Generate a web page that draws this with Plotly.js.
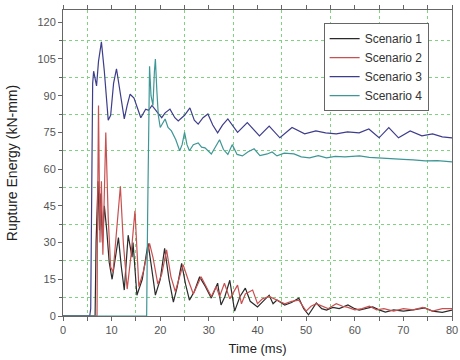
<!DOCTYPE html>
<html><head><meta charset="utf-8">
<script src="https://cdn.plot.ly/plotly-3.0.1.min.js"></script>
<style>html,body{margin:0;padding:0;background:#fff;}#chart{width:460px;height:360px;}</style>
</head><body><div id="chart"></div>
<script>
// Scenario 1 (black)
const t1 = [0,6.6,6.8,7.2,7.5,7.8,8.1,8.5,9.0,9.5,10.1,10.8,11.4,12.0,12.6,13.4,14.2,14.4,15.2,16.3,17.5,18.2,19.0,20.0,20.9,21.8,22.7,23.5,24.4,25.2,26.0,27.0,28.1,29.3,30.5,31.8,32.5,33.3,34.3,35.3,36.4,37.5,38.5,40.0,41.2,42.4,43.2,44.0,45.6,47.0,48.5,49.5,50.5,52.1,53.2,54.2,55.5,56.8,58.6,60.0,60.9,62.3,63.7,65.0,66.3,68.0,70.0,72.0,74.4,76.0,78.0,80.0];
const s1 = [0,0,30,55,35,50,30,45,35,22,15,25,32,20,10.6,33,24,30,8.5,15,29.7,20,8.5,15,27.6,15,5.7,12,21.5,13,6.5,10,16,12,7.3,13.4,4.5,8,14.6,2,8,11.4,6,3.7,6,8.5,5,6.5,4.5,5.5,7.3,3,0.5,5.3,3,2.4,3.5,3,4.5,3,2.4,3,3.7,2.5,1.6,2.5,2,2.5,3.3,2,1.5,2.4];
// Scenario 2 (red)
const t2 = [0,7.0,7.1,7.3,7.6,7.9,8.2,8.8,9.3,9.8,10.3,11.0,11.8,12.4,13.2,14.0,14.8,15.6,16.5,17.8,18.5,19.5,20.3,21.3,22.2,23.1,24.7,25.7,26.8,28.4,29.5,30.5,31.5,32.2,33.2,34.3,35.9,36.7,37.5,39.0,40.0,41.0,42.4,44.0,45.6,47.0,48.5,50.0,51.0,52.1,53.5,54.5,56.2,57.5,58.6,60.0,61.5,63.0,64.5,66.0,68.0,70.0,72.0,74.0,76.0,78.0,80.0];
const s2 = [0,0,40,86,30,55,25,75,40,20,18,35,53,30,11,25,43,12,18,29.7,24,13,17,27,16,10,21,15,9,16,12,8,12,8,13.4,7,12.6,5,9,10.6,5,7,8,6.5,5,6,6.5,2,4,5,4,3,5,4,3.5,2.5,3,4,2.5,3,2,3,2.5,3.5,2,3,3];
// Scenario 3 (navy)
const t3 = [0,5.5,5.7,5.9,6.1,6.3,6.7,6.9,7.3,7.9,8.5,9.3,9.8,10.4,11.0,11.8,12.6,13.2,13.8,14.6,15.3,16.0,17.0,17.6,18.3,19.0,19.7,20.3,21.0,22.0,23.0,23.7,25.0,26.1,27.0,27.8,28.8,29.8,30.8,31.8,32.8,33.9,35.9,37.9,40.4,42.4,44.6,47.1,49.7,52.0,54.0,56.2,58.5,60.9,62.9,65.0,67.0,69.0,71.4,73.8,76.0,78.0,80.0];
const s3 = [0,0,3,40,95,100,96,94,104,112,100,80,82,95,101,90,80.5,86,90.6,89,85,81,84.5,84,86,84,82.5,81,83,84.5,81,79.7,82,85,80,78.4,81,82.5,78,74.8,78,80.5,75,79,73.6,77.6,72.8,77,74.4,75.6,74.8,74.4,75.2,74.8,76.4,72.8,77,72.8,75.6,73.6,74.4,73.2,72.8];
// Scenario 4 (teal)
const t4 = [0,17.2,17.4,17.6,17.8,18.1,18.5,18.8,19.0,19.3,19.6,20.0,20.5,21.0,21.6,22.3,23.2,24.0,24.5,25.0,25.5,26.0,26.8,27.8,28.5,29.2,30.5,31.3,32.2,33.0,33.9,34.8,35.8,36.9,38.0,39.3,40.5,42.0,43.0,44.0,45.5,47.5,49.0,50.7,52.5,54.2,56.0,58.0,61.0,63.0,65.0,67.8,70.0,72.0,74.5,77.0,80.0];
const s4 = [0,0,40,85,102,90,86,100,105,92,82,77,79,80.5,77,75.6,72,67.5,70,75,70,67.5,70,70.7,69,68.7,66.2,69,72,68,66,70,66,65.4,67,68.3,65.5,66.2,67,65.4,66.5,66.2,65,64.6,65.5,64.6,65.2,65,65.4,64.8,64.5,64.2,64,63.8,63.4,63.5,63];

const names = ['Scenario 1','Scenario 2','Scenario 3','Scenario 4'];
const colors = ['#2a2a2a','#c85050','#3d3d8c','#3f9696'];
const xs = [t1,t2,t3,t4], ys = [s1,s2,s3,s4];
const traces = names.map((n,i)=>({x:xs[i], y:ys[i], name:n, type:'scatter', mode:'lines',
  line:{color:colors[i], width:1.2}}));

const xGrid = [5,15,25,35,45,55,65,75];
const yGrid = [7.5,22.5,37.5,52.5,67.5,82.5,97.5,112.5];
const gridStyle = {showgrid:true, gridcolor:'#7fd27f', griddash:'dot', gridwidth:1};

const layout = {
  width:460, height:360,
  margin:{l:63, r:8, t:10, b:44},
  paper_bgcolor:'#fff', plot_bgcolor:'#fff',
  font:{family:'Liberation Sans, Arial, sans-serif', size:11, color:'#555'},
  showlegend:true,
  legend:{x:0.67, y:0.957, xanchor:'left', yanchor:'top', bgcolor:'#fff',
    bordercolor:'#666', borderwidth:1, font:{size:12, color:'#333'}, tracegroupgap:0, itemwidth:30},
  xaxis:{range:[0,80], dtick:10, tick0:0, showgrid:false, zeroline:false,
    showline:true, linecolor:'#666', linewidth:1, mirror:'ticks',
    ticks:'outside', ticklen:4, tickcolor:'#666', ticklabeloverflow:'allow',
    minor:Object.assign({tickmode:'array', tickvals:xGrid, ticks:'outside', ticklen:4, tickcolor:'#666'}, gridStyle),
    title:{text:'Time (ms)', font:{size:13, color:'#222'}, standoff:8}},
  yaxis:{range:[0,125], dtick:15, tick0:0, showgrid:false, zeroline:false,
    showline:true, linecolor:'#666', linewidth:1, mirror:true,
    ticks:'outside', ticklen:4, tickcolor:'#666',
    minor:Object.assign({tickmode:'array', tickvals:yGrid, ticks:'outside', ticklen:3, tickcolor:'#666'}, gridStyle),
    title:{text:'Rupture Energy (kN-mm)', font:{size:14, color:'#222'}, standoff:16}}
};
Plotly.newPlot('chart', traces, layout, {displayModeBar:false, staticPlot:true});
</script></body></html>
